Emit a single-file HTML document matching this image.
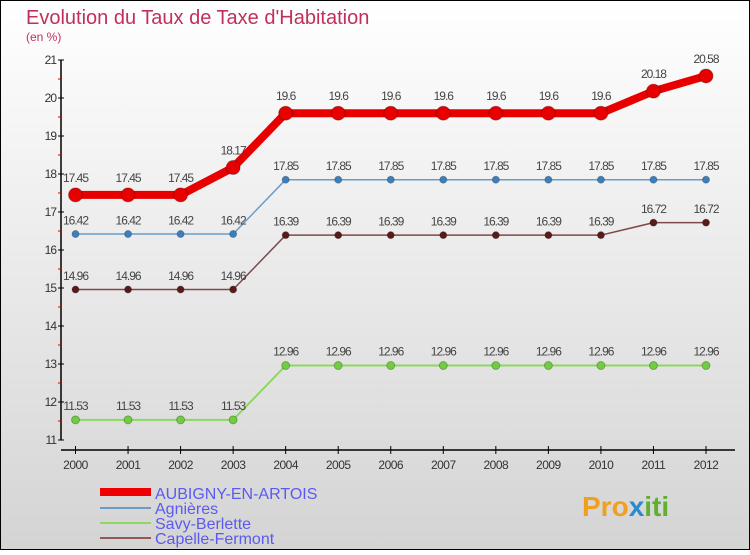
<!DOCTYPE html>
<html><head><meta charset="utf-8"><style>
body{margin:0}
svg text{font-family:"Liberation Sans",sans-serif}
</style></head><body>
<svg id="c" width="750" height="550" xmlns="http://www.w3.org/2000/svg">
<defs><linearGradient id="bg" x1="0" y1="0" x2="0" y2="1"><stop offset="0" stop-color="#ffffff"/><stop offset="1" stop-color="#d4d4d4"/></linearGradient></defs>
<rect x="0.5" y="0.5" width="749" height="549" fill="url(#bg)" stroke="#000"/>
<text x="26" y="24" font-size="20" fill="#c0305a">Evolution du Taux de Taxe d'Habitation</text>
<text x="26" y="41" font-size="12" fill="#c0305a">(en %)</text>
<g id="axes"></g><g id="series"></g>
<g>
<rect x="100" y="488" width="51" height="8" fill="#e00"/>
<text x="155" y="499" font-size="16" fill="#5a5af0">AUBIGNY-EN-ARTOIS</text>
<rect x="100" y="507" width="51" height="2" fill="#6a9cc8"/>
<text x="155" y="514" font-size="16" fill="#5a5af0">Agnières</text>
<rect x="100" y="522" width="51" height="2" fill="#8cd860"/>
<text x="155" y="529" font-size="16" fill="#5a5af0">Savy-Berlette</text>
<rect x="100" y="537" width="51" height="2" fill="#905858"/>
<text x="155" y="544" font-size="16" fill="#5a5af0">Capelle-Fermont</text>
</g>
<g><text x="582" y="516" font-size="28" font-weight="bold" fill="#f0a020">Pro<tspan fill="#2a8ad0">x</tspan><tspan fill="#60b030">iti</tspan></text></g>
</svg>
<script>
const years=[2000,2001,2002,2003,2004,2005,2006,2007,2008,2009,2010,2011,2012];
const yTicks=[11,12,13,14,15,16,17,18,19,20,21];
const aubigny=[17.45,17.45,17.45,18.17,19.6,19.6,19.6,19.6,19.6,19.6,19.6,20.18,20.58];
const agnieres=[16.42,16.42,16.42,16.42,17.85,17.85,17.85,17.85,17.85,17.85,17.85,17.85,17.85];
const savy=[11.53,11.53,11.53,11.53,12.96,12.96,12.96,12.96,12.96,12.96,12.96,12.96,12.96];
const capelle=[14.96,14.96,14.96,14.96,16.39,16.39,16.39,16.39,16.39,16.39,16.39,16.72,16.72];
const NS="http://www.w3.org/2000/svg";
const X=i=>75.5+i*(706-75.5)/(years.length-1);
const Y=v=>440-(v-11)*38;
function mk(p,t,a){const e=document.createElementNS(NS,t);for(const k in a)e.setAttribute(k,a[k]);p.appendChild(e);return e;}
const ax=document.getElementById('axes');
mk(ax,'line',{x1:61,y1:Y(21),x2:61,y2:Y(11),stroke:'#000','stroke-width':1.5});
mk(ax,'line',{x1:61,y1:450,x2:735,y2:450,stroke:'#000','stroke-width':1.5});
yTicks.forEach(v=>{
 mk(ax,'line',{x1:58,y1:Y(v),x2:64,y2:Y(v),stroke:'#000'});
 if(v<21)mk(ax,'line',{x1:58,y1:Y(v+0.5),x2:61,y2:Y(v+0.5),stroke:'#d00'});
 const t=mk(ax,'text',{x:56,y:Y(v)+4,'font-size':12,fill:'#333','text-anchor':'end','letter-spacing':'-1'});t.textContent=v;
 
 
});
years.forEach((yr,i)=>{
 mk(ax,'line',{x1:X(i),y1:446,x2:X(i),y2:454,stroke:'#000'});
 const t=mk(ax,'text',{x:X(i),y:469,'font-size':12,fill:'#333','text-anchor':'middle','letter-spacing':'-0.5'});t.textContent=yr;
 
 
});
const sg=document.getElementById('series');
function draw(vals,color,w,r,dot,name){
 const g=mk(sg,'g',{});
 
 
 mk(g,'polyline',{points:vals.map((v,i)=>X(i)+','+Y(v)).join(' '),fill:'none',stroke:color,'stroke-width':w,'stroke-linejoin':'round'});
 vals.forEach((v,i)=>{
  const c=mk(g,'circle',{cx:X(i),cy:Y(v),r:r,fill:dot,stroke:'rgba(0,0,0,0.25)'});
  
  
  const t=mk(g,'text',{x:X(i),y:Y(v)-r-6,'font-size':12,fill:'#444','text-anchor':'middle','letter-spacing':'-1'});t.textContent=v;
  
  
 });
}
draw(savy,'#8cd860',2,4,'#70cc40','series-savy-berlette');
draw(capelle,'#804848',1.5,3.5,'#5a1a1a','series-capelle-fermont');
draw(agnieres,'#6a9cc8',1.5,3.5,'#3a80c0','series-agnieres');
draw(aubigny,'#e80000',8,7,'#e80000','series-aubigny');
</script>
</body></html>
